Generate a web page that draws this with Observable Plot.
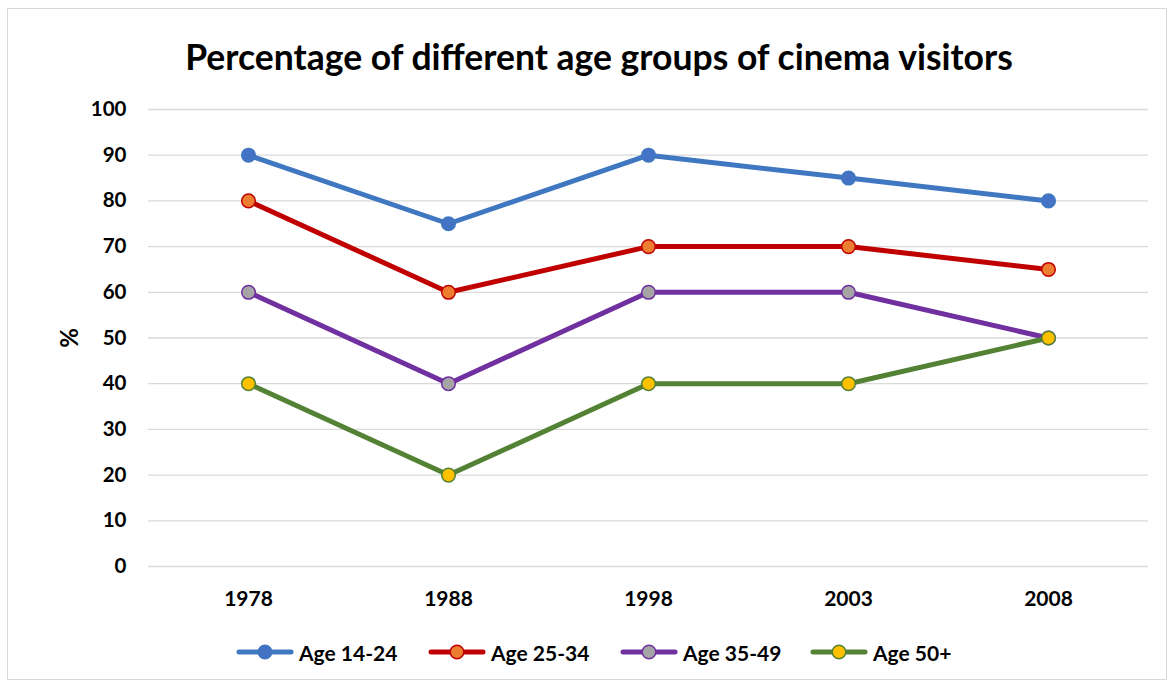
<!DOCTYPE html>
<html>
<head>
<meta charset="utf-8">
<script src="https://cdn.jsdelivr.net/npm/d3@7"></script>
<script src="https://cdn.jsdelivr.net/npm/@observablehq/plot@0.6"></script>
<style>
  html, body { margin: 0; padding: 0; background: #fff; }
  body { width: 1172px; height: 684px; position: relative; overflow: hidden; font-family: Lato, "Open Sans", sans-serif; }
  #frame { position: absolute; left: 7px; top: 8px; width: 1160px; height: 672px; border: 1px solid #d9d9d9; box-sizing: border-box; }
  #title { position: absolute; left: 0; top: 36px; width: 1198px; text-align: center; font-size: 35.5px; font-weight: 700; color: #000; margin: 0; line-height: 1.2; }
  #chart { position: absolute; left: 0; top: 0; }
  #legend { position: absolute; top: 639px; left: 0; width: 1172px; height: 26px; }
  .item { position: absolute; top: 0; display: flex; align-items: center; font-size: 21px; font-weight: 700; color: #000; }
  .item svg { margin-right: 5px; }
</style>
</head>
<body>
<div id="frame"></div>
<h1 id="title">Percentage of different age groups of cinema visitors</h1>
<div id="chart"></div>
<div id="legend"></div>
<script>
const years = ["1978", "1988", "1998", "2003", "2008"];
const seriesNames = ["Age 14-24", "Age 25-34", "Age 35-49", "Age 50+"];
const age1424 = [90, 75, 90, 85, 80];
const age2534 = [80, 60, 70, 70, 65];
const age3549 = [60, 40, 60, 60, 50];
const age50plus = [40, 20, 40, 40, 50];
const yTicks = [0, 10, 20, 30, 40, 50, 60, 70, 80, 90, 100];

const lineColors = ["#3f78c0", "#c00000", "#7030a0", "#548235"];
const dotFills = ["#4472c4", "#ed7d31", "#a5a5a5", "#ffc000"];
const dotStrokes = ["#3f78c0", "#c00000", "#7030a0", "#548235"];

const allValues = [age1424, age2534, age3549, age50plus];
const series = seriesNames.map((name, i) => years.map((y, j) => ({ year: y, value: allValues[i][j], series: name })));

const marks = [
  Plot.ruleY(yTicks, { stroke: "#d9d9d9", strokeWidth: 1.3 }),
  Plot.axisY({ ticks: yTicks, tickSize: 0, tickPadding: 22, fontSize: 20.5, fontWeight: 700, label: "%", labelAnchor: "center", labelArrow: "none", labelOffset: 88 }),
  Plot.axisX({ tickSize: 0, tickPadding: 25, fontSize: 21, fontWeight: 700, label: null })
];
series.forEach((d, i) => {
  marks.push(Plot.line(d, { x: "year", y: "value", stroke: lineColors[i], strokeWidth: 5, strokeLinejoin: "round", strokeLinecap: "round" }));
});
series.forEach((d, i) => {
  marks.push(Plot.dot(d, { x: "year", y: "value", r: 6.8, fill: dotFills[i], stroke: dotStrokes[i], strokeWidth: 1.5 }));
});

const chart = Plot.plot({
  width: 1172,
  height: 684,
  marginLeft: 148,
  marginRight: 24,
  marginTop: 109,
  marginBottom: 118,
  style: { fontFamily: 'Lato, "Open Sans", sans-serif', color: "#000", background: "transparent" },
  x: { type: "point", domain: years, padding: 0.5 },
  y: { domain: [0, 100] },
  marks
});
document.getElementById("chart").appendChild(chart);
const yLabel = chart.querySelector('[aria-label="y-axis label"] text');
if (yLabel) { yLabel.setAttribute("font-size", "24"); yLabel.setAttribute("font-weight", "700"); }

// legend
const legendLefts = [236, 428, 620, 810];
const legend = document.getElementById("legend");
seriesNames.forEach((name, i) => {
  const item = document.createElement("div");
  item.className = "item";
  item.style.left = legendLefts[i] + "px";
  item.innerHTML = `<svg width="58" height="26"><line x1="3" x2="55" y1="13" y2="13" stroke="${lineColors[i]}" stroke-width="5" stroke-linecap="round"/><circle cx="29" cy="13" r="6.8" fill="${dotFills[i]}" stroke="${dotStrokes[i]}" stroke-width="1.5"/></svg><span>${name}</span>`;
  legend.appendChild(item);
});
</script>
</body>
</html>
